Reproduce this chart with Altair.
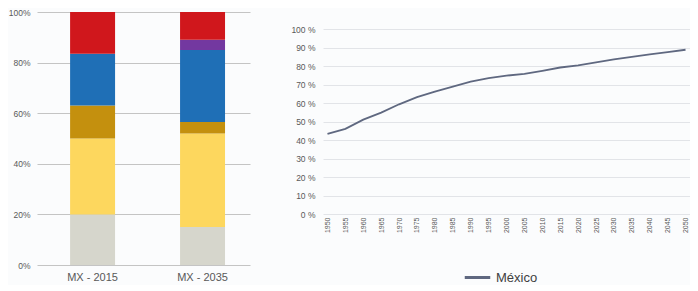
import altair as alt
import pandas as pd

# ---- Left chart data (stacked 100% bars) ----
bar_categories = ["MX - 2015", "MX - 2035"]
segments = ["Seg 1", "Seg 2", "Seg 3", "Seg 4", "Seg 5", "Seg 6"]  # bottom -> top
seg_colors = ["#d6d6cc", "#fdd75e", "#c4900e", "#1f6fb6", "#7338a0", "#d0171c"]
values_2015 = [20.0, 30.0, 13.0, 20.5, 0.0, 16.5]
values_2035 = [15.0, 37.0, 4.5, 28.5, 4.0, 11.0]

# ---- Right chart data (line) ----
years = [1950, 1955, 1960, 1965, 1970, 1975, 1980, 1985, 1990, 1995, 2000,
         2005, 2010, 2015, 2020, 2025, 2030, 2035, 2040, 2045, 2050]
mexico = [0.433, 0.460, 0.510, 0.548, 0.593, 0.632, 0.662, 0.689, 0.715, 0.735, 0.748,
          0.758, 0.774, 0.792, 0.804, 0.820, 0.836, 0.850, 0.863, 0.875, 0.888]
series_name = "México"

rows = []
for cat, vals in zip(bar_categories, [values_2015, values_2035]):
    for i, (s, v) in enumerate(zip(segments, vals)):
        rows.append({"cat": cat, "seg": s, "idx": i, "val": v})
df_bar = pd.DataFrame(rows)

df_line = pd.DataFrame({"year": [str(y) for y in years], "pct": mexico,
                        "serie": [series_name] * len(years)})

label_color = "#595959"
font = "Liberation Sans"

left = alt.Chart(df_bar).mark_bar().encode(
    x=alt.X("cat:N", sort=bar_categories,
            scale=alt.Scale(paddingInner=0.591, paddingOuter=0.264, align=0.57),
            axis=alt.Axis(title=None, labelAngle=0, domain=False, ticks=False,
                          labelFontSize=11, labelColor=label_color, labelPadding=6,
                          labelFont=font)),
    y=alt.Y("val:Q", stack="zero", scale=alt.Scale(domain=[0, 100], nice=False),
            axis=alt.Axis(title=None, values=[0, 20, 40, 60, 80, 100],
                          labelExpr="datum.value + '%'", domain=False, ticks=False,
                          grid=True, gridColor="#c4c4c4", gridWidth=1.2,
                          labelFontSize=8.5, labelColor=label_color, labelPadding=7,
                          labelFont=font)),
    color=alt.Color("seg:N", scale=alt.Scale(domain=segments, range=seg_colors), legend=None),
    order=alt.Order("idx:Q", sort="ascending"),
).properties(width=213, height=253)

right = alt.Chart(df_line).mark_line(strokeWidth=1.8).encode(
    x=alt.X("year:O", sort=[str(y) for y in years],
            scale=alt.Scale(type="point", padding=0.25),
            axis=alt.Axis(title=None, labelAngle=-90, labelFontSize=7, domain=False,
                          ticks=False, grid=False, labelColor=label_color,
                          labelPadding=3, labelFont=font)),
    y=alt.Y("pct:Q", scale=alt.Scale(domain=[0, 1.092], nice=False, zero=True),
            axis=alt.Axis(title=None, values=[i / 10 for i in range(11)],
                          labelExpr="round(datum.value * 100) + ' %'",
                          domain=False, ticks=False, grid=True, gridColor="#e2e4e8",
                          labelFontSize=8.5, labelColor=label_color, labelPadding=8,
                          labelFont=font)),
    color=alt.Color("serie:N", scale=alt.Scale(domain=[series_name], range=["#5f6880"]),
                    legend=alt.Legend(orient="none", legendX=140, legendY=251,
                                      title=None, symbolType="stroke",
                                      symbolStrokeWidth=3, symbolSize=650,
                                      symbolStrokeColor="#4d5e92",
                                      labelFontSize=13, labelColor="#404040",
                                      labelFont=font)),
).properties(width=367, height=202)

chart = alt.hconcat(left, right, spacing=40).resolve_scale(
    color="independent"
).resolve_legend(color="independent").properties(
    padding=0, background="#fbfcfd"
).configure_view(stroke=None)

chart.save("out.html", embed_options={"renderer": "svg", "actions": False})
